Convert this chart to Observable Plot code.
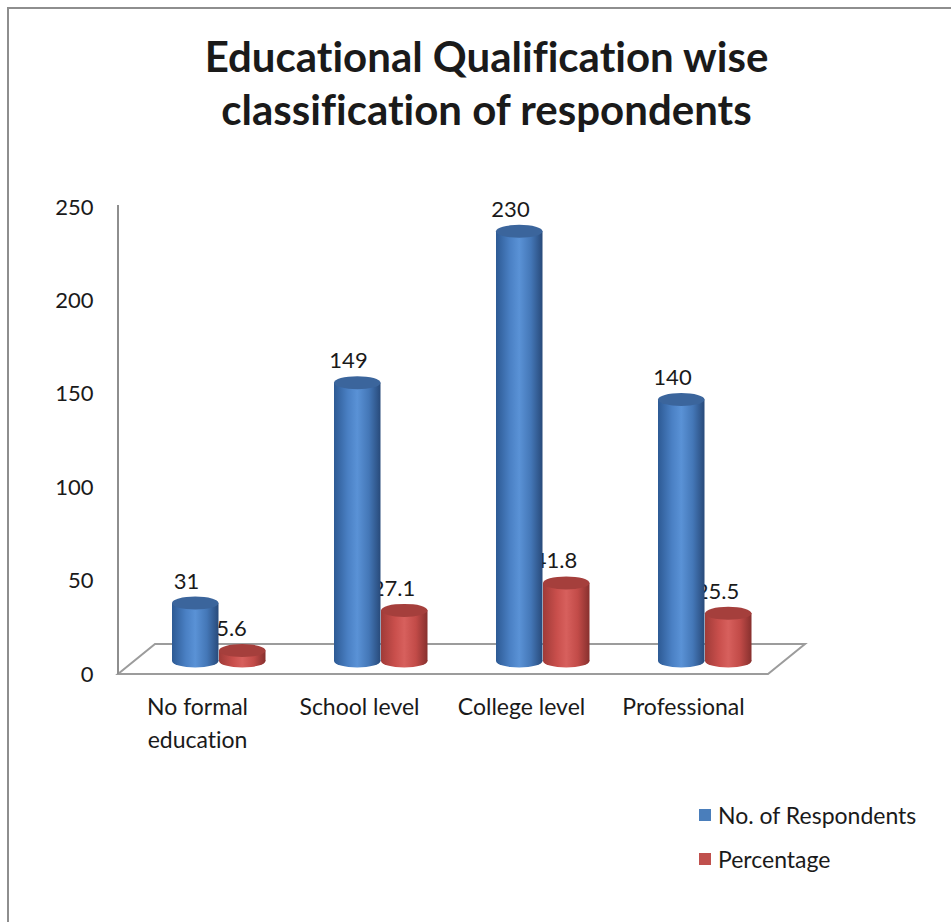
<!DOCTYPE html>
<html>
<head>
<meta charset="utf-8">
<script src="https://cdn.jsdelivr.net/npm/d3@7"></script>
<script src="https://cdn.jsdelivr.net/npm/@observablehq/plot@0.6"></script>
<style>
  html, body { margin: 0; padding: 0; background: #fff; }
  #page { position: relative; width: 951px; height: 922px; overflow: hidden; font-family: Lato, "Open Sans", sans-serif; color: #1a1a1a; font-variant-ligatures: none; }
  #page text { font-variant-ligatures: none; }
  #border { position: absolute; left: 7px; top: 7px; width: 1000px; height: 1000px; border-left: 2px solid #8e8e8e; border-top: 2px solid #8e8e8e; pointer-events: none; }
  #title { height: 180px; box-sizing: border-box; padding-top: 30px; padding-left: 22px; text-align: center; font-weight: 700; font-size: 42px; line-height: 53px; }
  #chart svg { display: block; overflow: visible; }
  #legend { position: absolute; left: 699px; top: 801px; font-size: 23px; }
  #legend .item { display: flex; align-items: center; height: 28px; margin-bottom: 16px; }
  #legend .swatch { width: 12px; height: 12px; margin-right: 7px; }
</style>
</head>
<body>
<div id="page">
  <div id="border"></div>
  <div id="title">Educational Qualification wise<br>classification of respondents</div>
  <div id="chart"></div>
  <div id="legend"></div>
</div>
<script>
// Survey data: respondents by educational qualification
const categories = ["No formal education", "School level", "College level", "Professional"];
const categoryLabels = ["No formal\neducation", "School level", "College level", "Professional"];
const seriesNames = ["No. of Respondents", "Percentage"];
const respondents = [31, 149, 230, 140];
const percentage = [5.6, 27.1, 41.8, 25.5];
const yTicks = [0, 50, 100, 150, 200, 250];

// Cylinder shading per series: body gradient stops, lid colour, legend colour
const palette = {
  "No. of Respondents": {
    stops: [[0, "#2d5a94"], [0.3, "#4a80c4"], [0.5, "#5a92d6"], [0.75, "#4477b7"], [1, "#284a7a"]],
    lid: "#3b659c",
    swatch: "#4a7ebb"
  },
  "Percentage": {
    stops: [[0, "#a03b38"], [0.3, "#c94f4c"], [0.5, "#d7605d"], [0.75, "#c24b48"], [1, "#87302e"]],
    lid: "#a53f3c",
    swatch: "#c0504d"
  }
};

const rows = [];
categories.forEach((c, i) => {
  rows.push({category: c, series: seriesNames[0], value: respondents[i]});
  rows.push({category: c, series: seriesNames[1], value: percentage[i]});
});
const blueRows = rows.filter(d => d.series === seriesNames[0]);
const redRows = rows.filter(d => d.series === seriesNames[1]);

const SVGNS = "http://www.w3.org/2000/svg";
const DEPTH_X = 37, DEPTH_Y = 30;   // floor depth offsets
const LIFT_X = 18, LIFT_Y = -13;    // bars stand mid-depth on the floor
const RY = 6.5;                      // ellipse half-height of the cylinder caps

function el(name, attrs) {
  const e = document.createElementNS(SVGNS, name);
  for (const k in attrs) e.setAttribute(k, attrs[k]);
  return e;
}

// Turns each rect of a rectY mark into a shaded cylinder
function cylinder(series) {
  const p = palette[series];
  const id = "grad-" + series.replace(/[^a-z]/gi, "");
  return function(index, scales, values, dimensions, context, next) {
    const g = next(index, scales, values, dimensions, context);
    const defs = el("defs", {});
    const grad = el("linearGradient", {id, x1: "0", x2: "1", y1: "0", y2: "0"});
    for (const [o, c] of p.stops) grad.appendChild(el("stop", {offset: o, "stop-color": c}));
    defs.appendChild(grad);
    g.insertBefore(defs, g.firstChild);
    for (const rect of Array.from(g.querySelectorAll("rect"))) {
      const x = +rect.getAttribute("x"), y = +rect.getAttribute("y");
      const w = +rect.getAttribute("width"), h = +rect.getAttribute("height");
      rect.setAttribute("fill", `url(#${id})`);
      const bottom = el("ellipse", {cx: x + w / 2, cy: y + h, rx: w / 2, ry: RY, fill: `url(#${id})`});
      const top = el("ellipse", {cx: x + w / 2, cy: y, rx: w / 2, ry: RY, fill: p.lid});
      g.insertBefore(bottom, rect);
      if (rect.nextSibling) g.insertBefore(top, rect.nextSibling); else g.appendChild(top);
    }
    return g;
  };
}

// Floor parallelogram and vertical value axis line, placed from the scales
function floorAndAxis(index, scales, values, dimensions) {
  const x0 = dimensions.marginLeft;
  const x1 = dimensions.width - dimensions.marginRight;
  const y0 = scales.y(0);
  const yTop = scales.y(yTicks[yTicks.length - 1]);
  const g = el("g", {fill: "none", stroke: "#9c9c9c", "stroke-width": 2});
  g.appendChild(el("polygon", {
    points: `${x0},${y0} ${x1},${y0} ${x1 + DEPTH_X},${y0 - DEPTH_Y} ${x0 + DEPTH_X},${y0 - DEPTH_Y}`,
    "stroke-linejoin": "miter"
  }));
  g.appendChild(el("line", {x1: x0, y1: y0, x2: x0, y2: yTop - 2, stroke: "#8e8e8e"}));
  return g;
}

const FONT = "Lato, 'Open Sans', sans-serif";
const TEXT = "#1a1a1a";

const chart = Plot.plot({
  width: 951,
  height: 742,
  marginTop: 27,
  marginBottom: 248,
  marginLeft: 118,
  marginRight: 183,
  style: {fontFamily: FONT, fontSize: "22px", color: TEXT, background: "transparent", overflow: "visible"},
  x: {domain: categories, padding: 0, axis: null},
  y: {domain: [0, 250], axis: null, label: null},
  marks: [
    floorAndAxis,
    Plot.axisY(yTicks, {tickSize: 0, tickPadding: 25, fontSize: 22, fill: TEXT, label: null}),
    Plot.text(categories, {
      x: d => d,
      text: (d, i) => categoryLabels[i],
      frameAnchor: "bottom",
      dx: -3,
      dy: 18,
      lineAnchor: "top",
      lineHeight: 1.4,
      fontSize: 23,
      fill: TEXT
    }),
    Plot.rectY(redRows, {
      x: "category", y: "value", insetLeft: 82, insetRight: 33.5,
      dx: LIFT_X, dy: LIFT_Y, fill: palette["Percentage"].swatch,
      render: cylinder("Percentage")
    }),
    Plot.text(redRows, {x: "category", y: "value", text: d => String(d.value), dx: 31, dy: LIFT_Y - 22, fontSize: 22, fill: TEXT}),
    Plot.rectY(blueRows, {
      x: "category", y: "value", insetLeft: 35, insetRight: 80.5,
      dx: LIFT_X, dy: LIFT_Y, fill: palette["No. of Respondents"].swatch,
      render: cylinder("No. of Respondents")
    }),
    Plot.text(blueRows, {x: "category", y: "value", text: d => String(d.value), dx: -14, dy: LIFT_Y - 22, fontSize: 22, fill: TEXT})
  ]
});
document.getElementById("chart").appendChild(chart);

// Legend, stacked vertically
const legend = document.getElementById("legend");
for (const name of seriesNames) {
  const item = document.createElement("div");
  item.className = "item";
  const sw = document.createElement("div");
  sw.className = "swatch";
  sw.style.background = palette[name].swatch;
  const label = document.createElement("span");
  label.textContent = name;
  item.appendChild(sw);
  item.appendChild(label);
  legend.appendChild(item);
}
</script>
</body>
</html>
